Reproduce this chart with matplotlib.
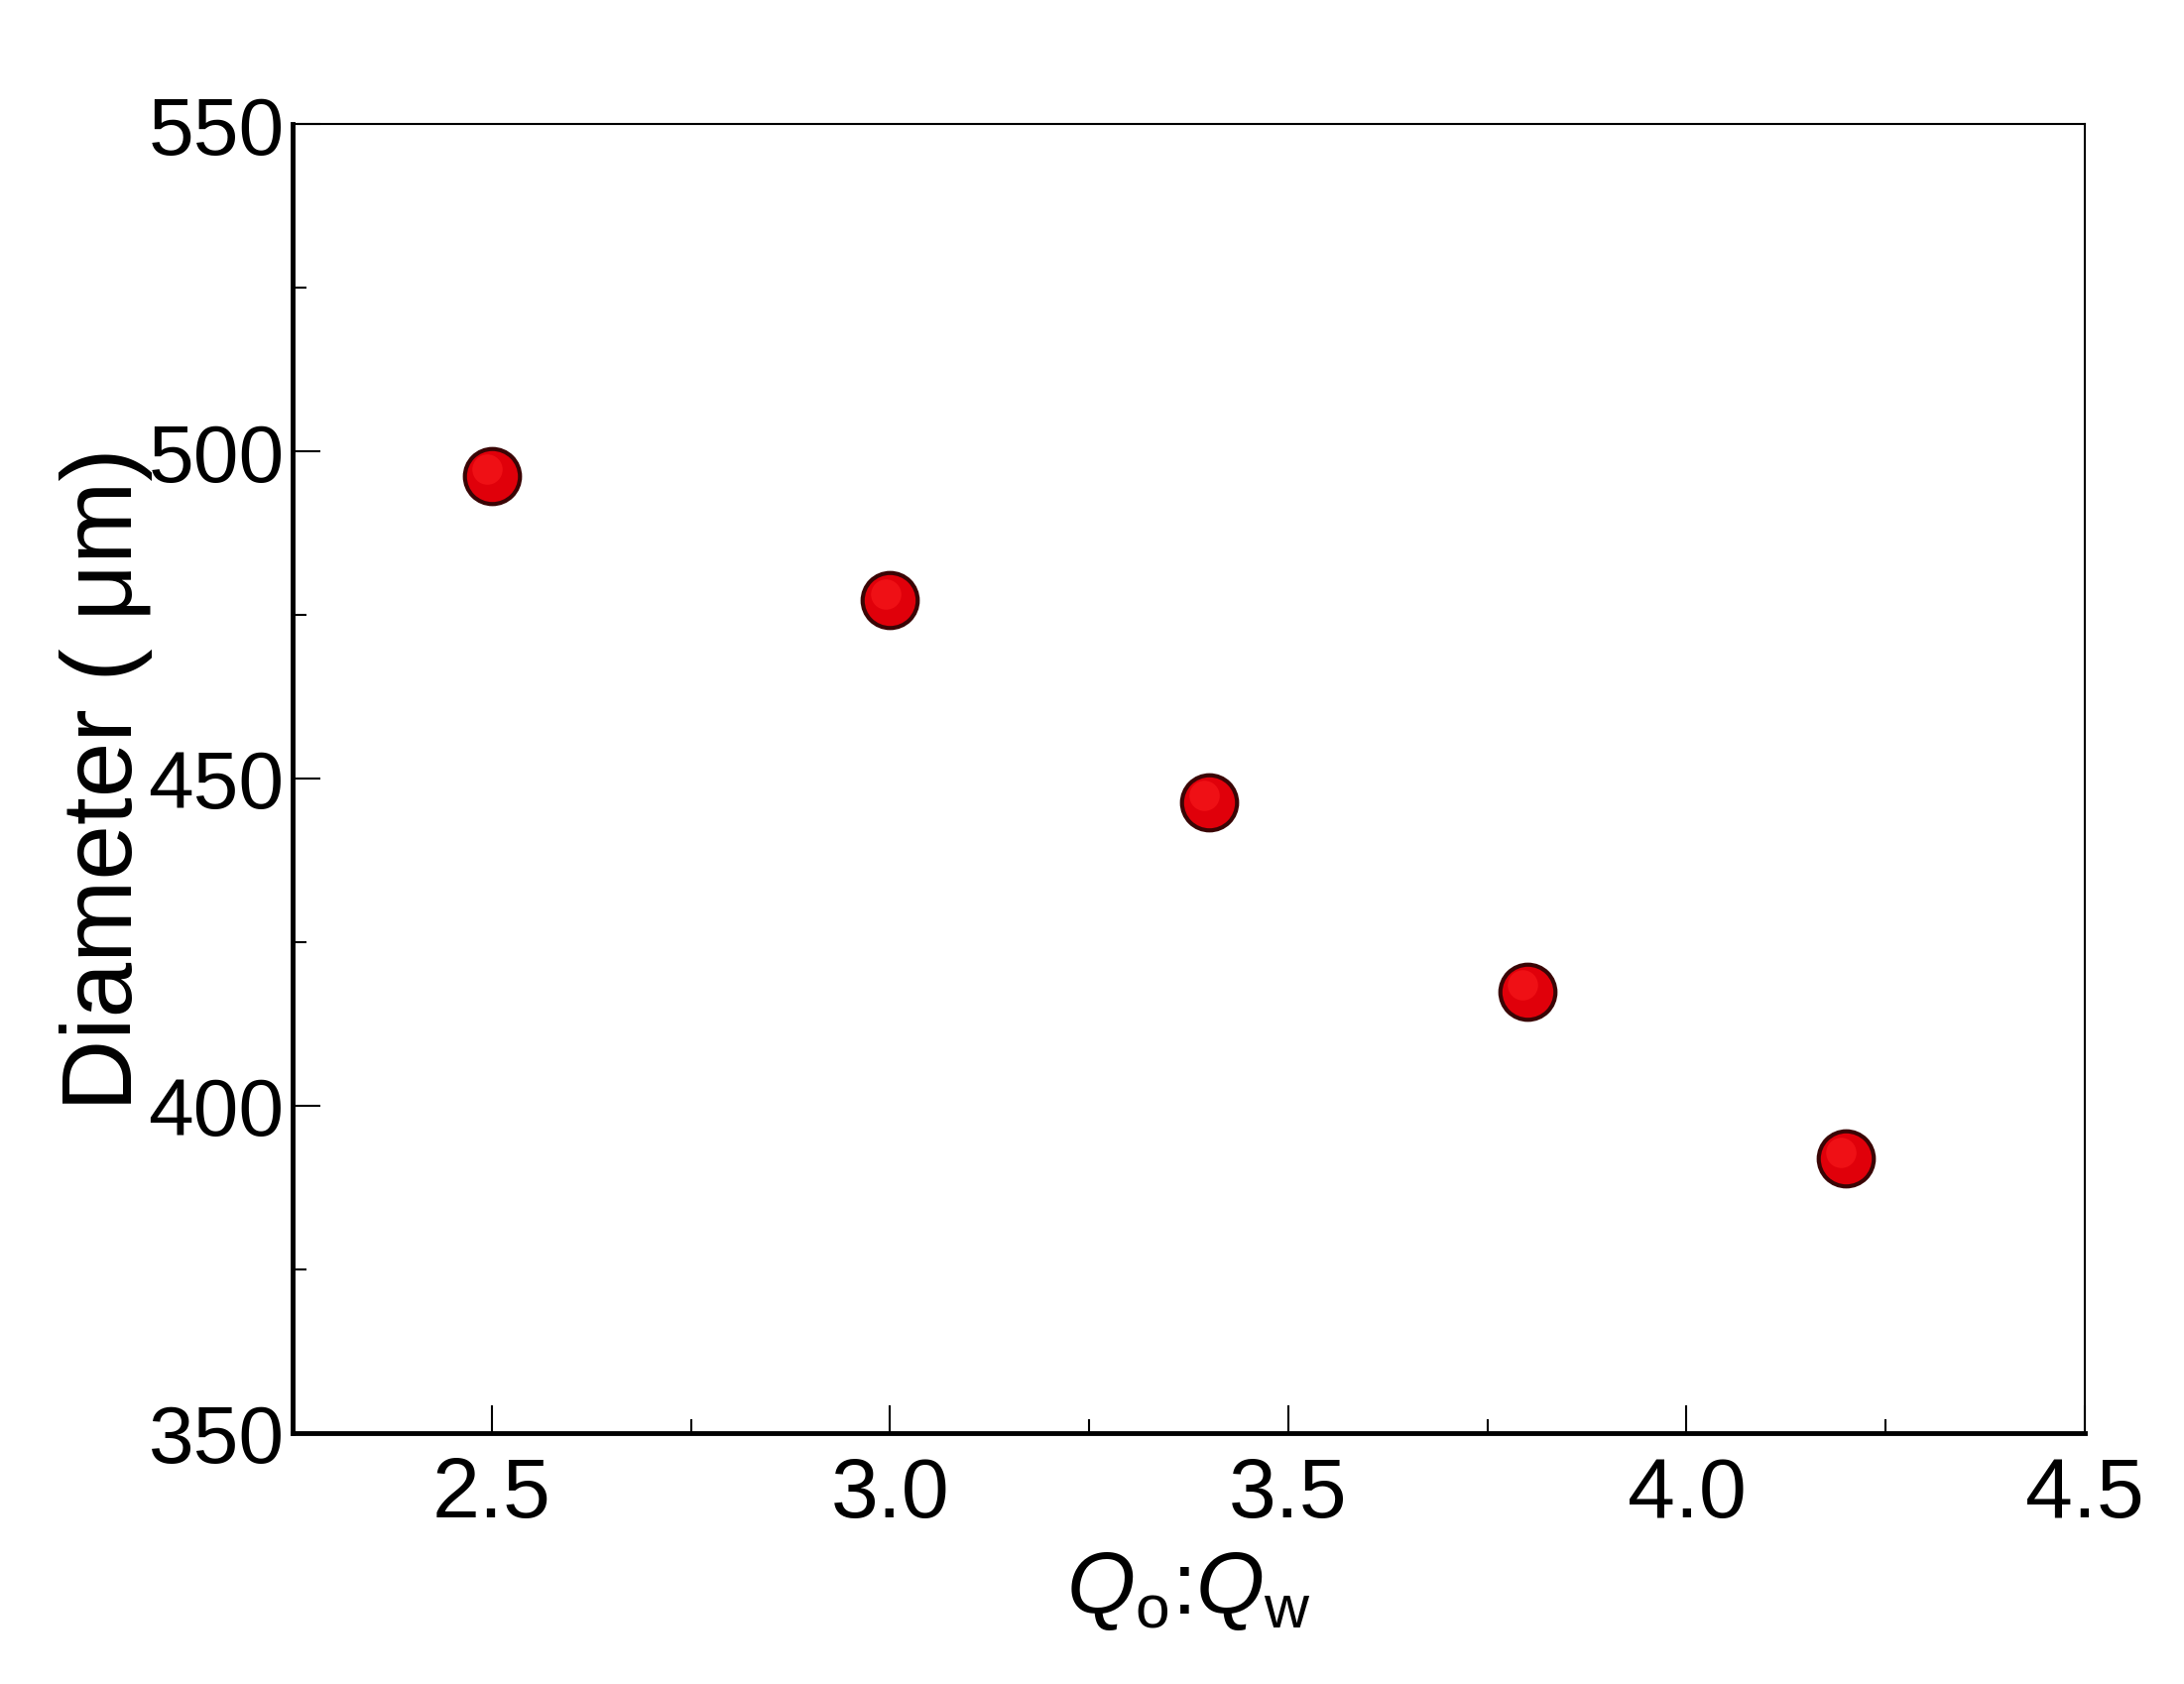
import numpy as np
import matplotlib.pyplot as plt
from matplotlib.ticker import MultipleLocator

# Data
ratio = [2.5, 3.0, 3.4, 3.8, 4.2]          # Qo:Qw
diameter = [496.2, 477.2, 446.4, 417.4, 391.9]  # um

x_ticks = [2.5, 3.0, 3.5, 4.0, 4.5]
y_ticks = [350, 400, 450, 500, 550]

plt.rcParams['font.family'] = ['Liberation Sans', 'DejaVu Sans']
plt.rcParams['mathtext.fontset'] = 'custom'
plt.rcParams['mathtext.rm'] = 'Liberation Sans'
plt.rcParams['mathtext.it'] = 'Liberation Sans:italic'

fig = plt.figure(figsize=(22.02, 16.99), dpi=100)
ax = fig.add_axes([0.134, 0.149, 0.8206, 0.7768])

# red balls with dark rim
ax.plot(ratio, diameter, 'o', ms=40, mfc='#e0000a', mec='#3a0505', mew=3, zorder=3)
ax.plot(np.array(ratio) - 0.006, np.array(diameter) + 1.0, 'o', ms=22,
        mfc='#ff2020', mec='none', alpha=0.5, zorder=4)

ax.set_xlim(2.25, 4.5)
ax.set_ylim(350, 550)
ax.set_xticks(x_ticks)
ax.set_yticks(y_ticks)
ax.set_xticklabels([f'{v:.1f}' for v in x_ticks])
ax.xaxis.set_minor_locator(MultipleLocator(0.25))
ax.yaxis.set_minor_locator(MultipleLocator(25))

ax.tick_params(which='both', direction='in', top=False, right=False, width=1.5)
ax.tick_params(which='major', length=20)
ax.tick_params(which='minor', length=10)
ax.tick_params(axis='x', labelsize=62, pad=16)
ax.tick_params(axis='y', labelsize=59, pad=6)

for s in ['left', 'bottom']:
    ax.spines[s].set_linewidth(3.5)
for s in ['top', 'right']:
    ax.spines[s].set_linewidth(1.5)

ax.set_xlabel(r'$Q_{\mathrm{o}}$:$Q_{\mathrm{w}}$', fontsize=64, labelpad=10)
ax.set_ylabel('Diameter ( μm)', fontsize=72, labelpad=-3)

fig.savefig('out.png', dpi=100)
